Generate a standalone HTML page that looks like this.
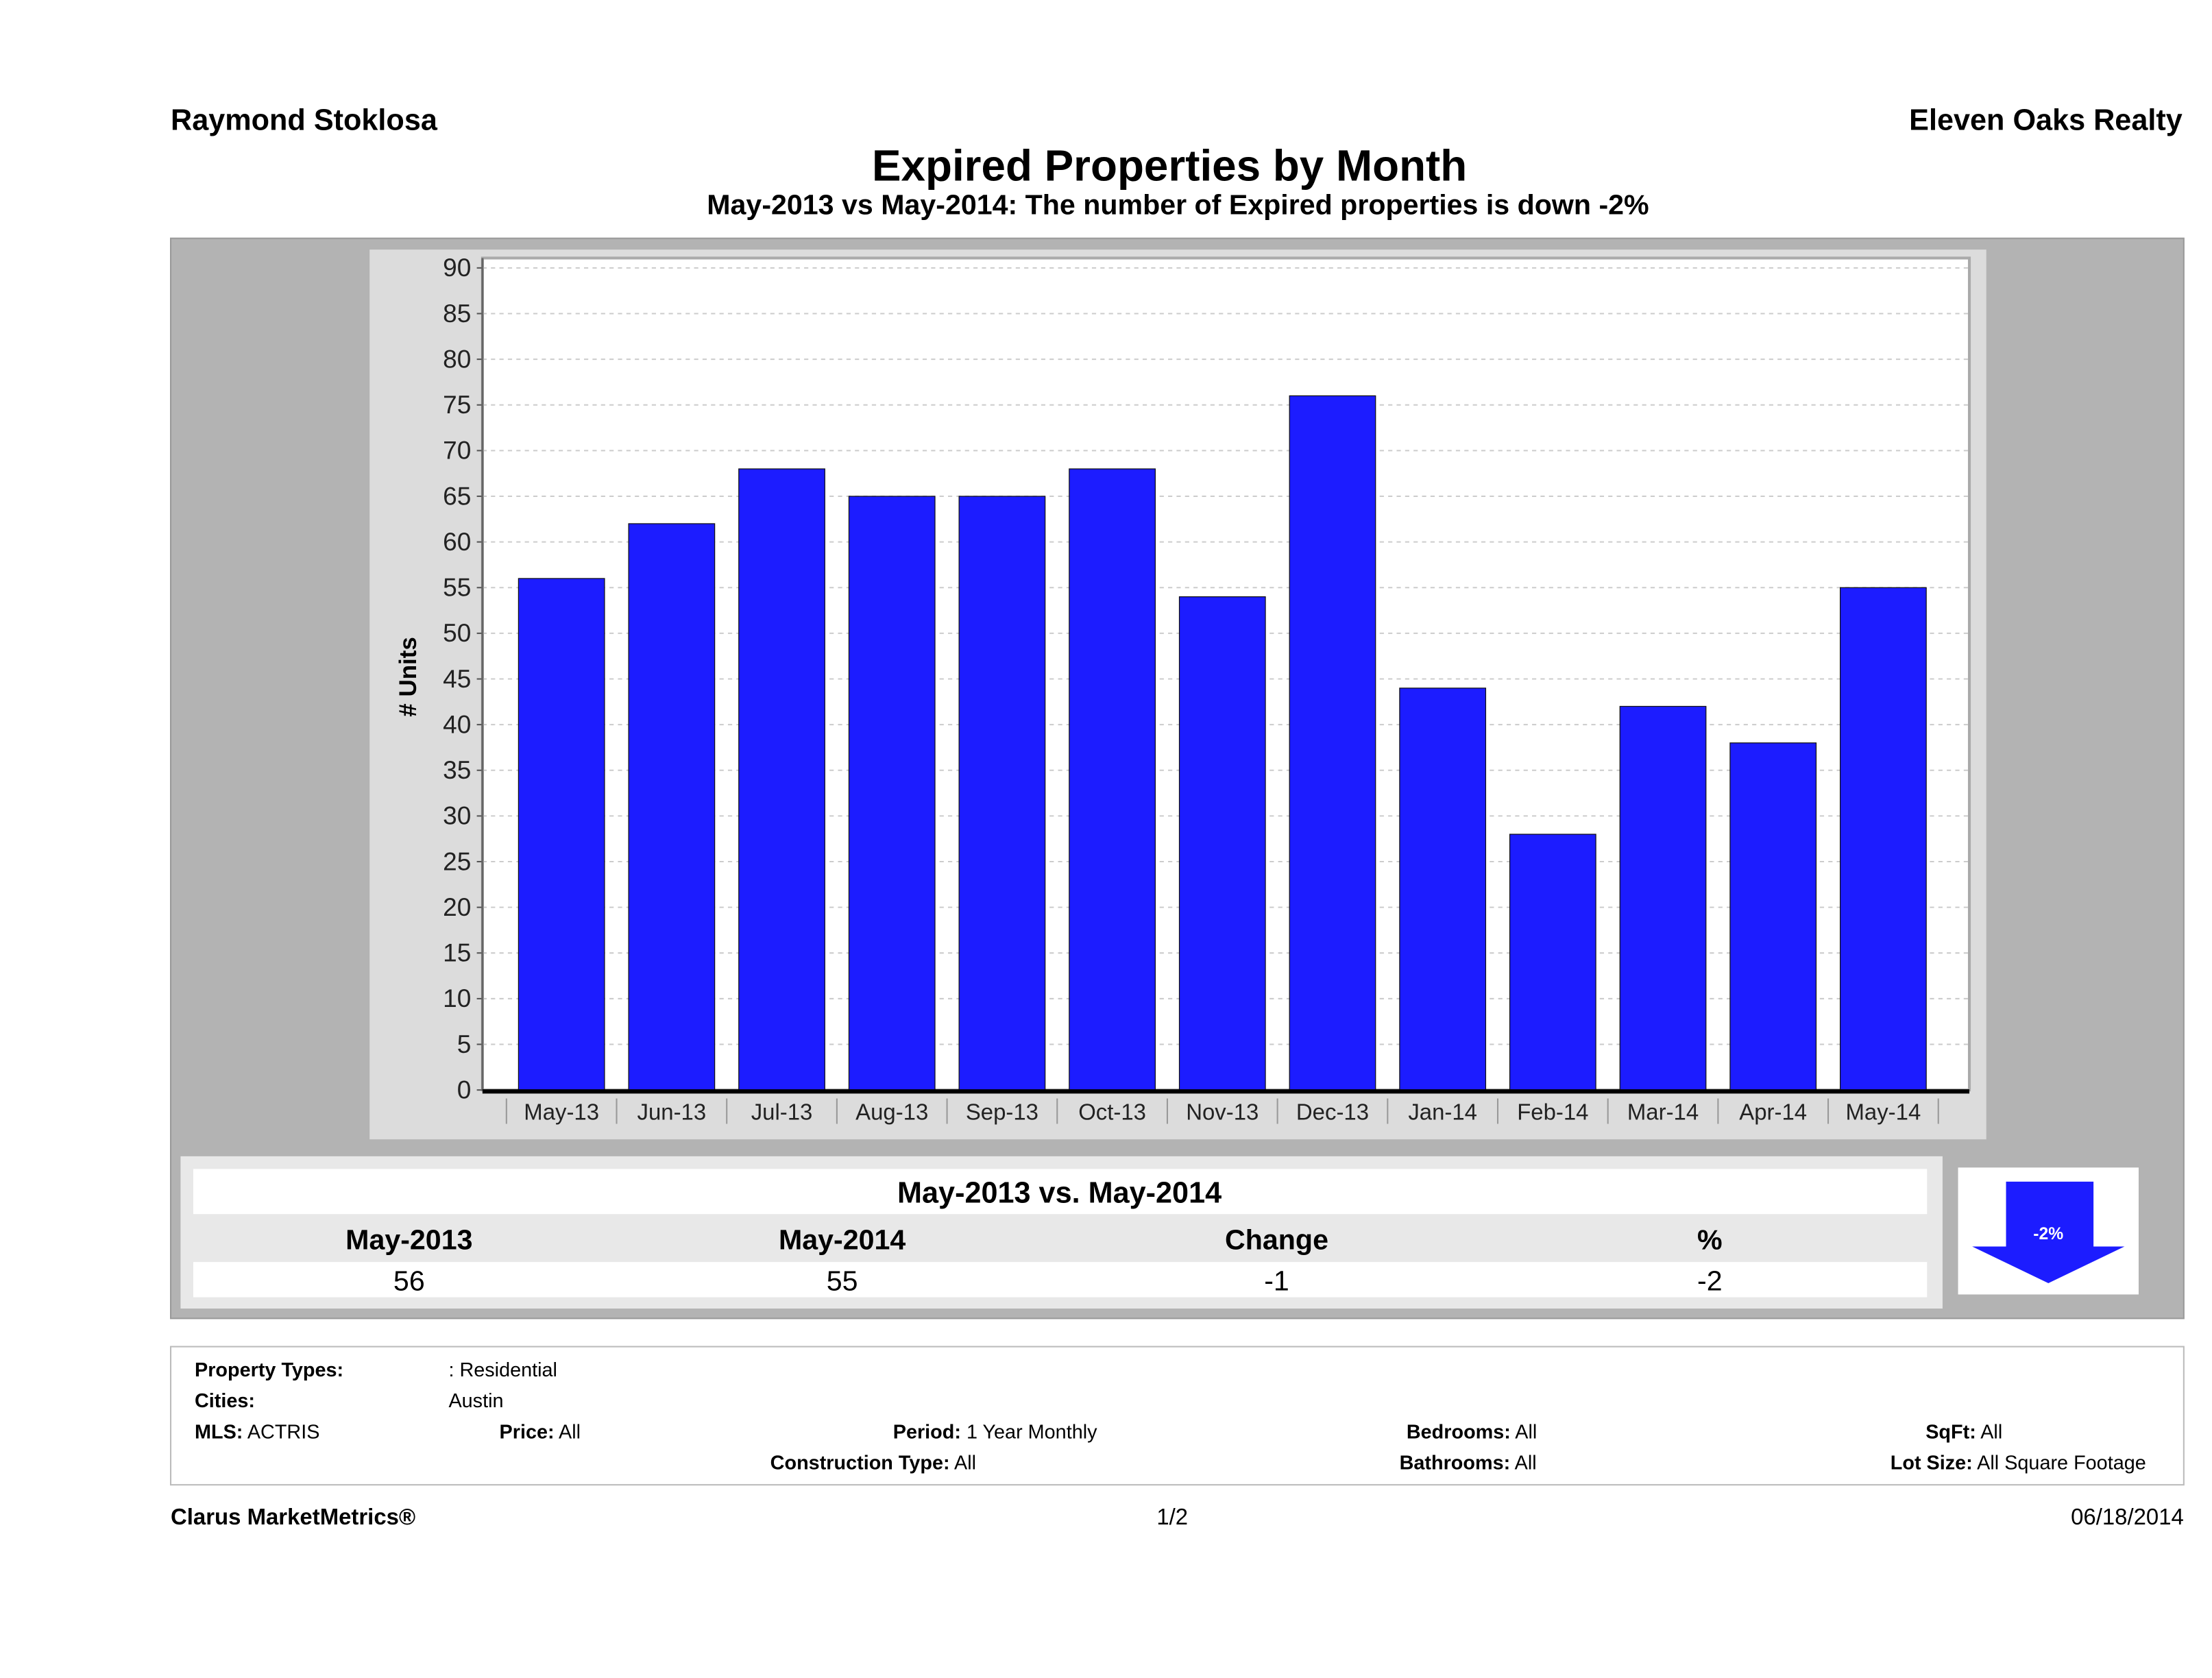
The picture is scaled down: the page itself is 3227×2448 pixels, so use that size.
<!DOCTYPE html>
<html><head><meta charset="utf-8"><style>
html,body{margin:0;padding:0;background:#fff;}
svg{display:block;font-family:"Liberation Sans",sans-serif;}
</style></head><body>
<svg id="root" width="3227" height="2448" viewBox="0 0 1568 1190" preserveAspectRatio="none" xmlns="http://www.w3.org/2000/svg">
<rect width="1568" height="1190" fill="#fff"/>
<text x="121" y="92" font-size="21" font-weight="bold">Raymond Stoklosa</text>
<text x="1547" y="92" font-size="21" font-weight="bold" text-anchor="end">Eleven Oaks Realty</text>
<text x="829" y="128" font-size="31" font-weight="bold" text-anchor="middle">Expired Properties by Month</text>
<text x="835" y="152" font-size="20" font-weight="bold" text-anchor="middle">May-2013 vs May-2014: The number of Expired  properties is down -2%</text>

<rect x="121" y="169" width="1427" height="766" fill="#b3b3b3" stroke="#999" stroke-width="1"/>
<rect x="262" y="177" width="1146" height="631" fill="#dcdcdc"/>
<rect x="342" y="183" width="1054" height="590" fill="#fff" stroke="#aaa" stroke-width="2"/>
<g id="grid"></g>
<g id="bars"></g>
<g id="yaxis"></g>
<g id="xaxis"></g>
<text transform="translate(295,480) rotate(-90)" font-size="17" font-weight="bold" text-anchor="middle"># Units</text>

<rect x="128" y="820" width="1249" height="108" fill="#e8e8e8"/>
<rect x="137" y="829" width="1229" height="32" fill="#fff"/>
<text x="751" y="853" font-size="21" font-weight="bold" text-anchor="middle">May-2013 vs. May-2014</text>
<text x="290" y="886" font-size="20" font-weight="bold" text-anchor="middle">May-2013</text>
<text x="597" y="886" font-size="20" font-weight="bold" text-anchor="middle">May-2014</text>
<text x="905" y="886" font-size="20" font-weight="bold" text-anchor="middle">Change</text>
<text x="1212" y="886" font-size="20" font-weight="bold" text-anchor="middle">%</text>
<rect x="137" y="895" width="1229" height="25" fill="#fff"/>
<text x="290" y="915" font-size="20" text-anchor="middle">56</text>
<text x="597" y="915" font-size="20" text-anchor="middle">55</text>
<text x="905" y="915" font-size="20" text-anchor="middle">-1</text>
<text x="1212" y="915" font-size="20" text-anchor="middle">-2</text>
<rect x="1388" y="828" width="128" height="90" fill="#fff"/>
<polygon points="1422,838 1484,838 1484,884 1506,884 1452,910 1398,884 1422,884" fill="#1c1cff"/>
<text x="1452" y="879" font-size="12" font-weight="bold" fill="#fff" text-anchor="middle">-2%</text>

<rect x="121" y="955" width="1427" height="98" fill="#fff" stroke="#bbb" stroke-width="1"/>
<g font-size="14">
<text x="138" y="976"><tspan font-weight="bold">Property Types:</tspan></text>
<text x="318" y="976">: Residential</text>
<text x="138" y="998" font-weight="bold">Cities:</text>
<text x="318" y="998">Austin</text>
<text x="138" y="1020"><tspan font-weight="bold">MLS:</tspan>   ACTRIS</text>
<text x="354" y="1020"><tspan font-weight="bold">Price:</tspan> All</text>
<text x="633" y="1020"><tspan font-weight="bold">Period:</tspan> 1 Year Monthly</text>
<text x="546" y="1042"><tspan font-weight="bold">Construction Type:</tspan> All</text>
<text x="997" y="1020"><tspan font-weight="bold">Bedrooms:</tspan> All</text>
<text x="992" y="1042"><tspan font-weight="bold">Bathrooms:</tspan> All</text>
<text x="1365" y="1020"><tspan font-weight="bold">SqFt:</tspan>  All</text>
<text x="1340" y="1042"><tspan font-weight="bold">Lot Size:</tspan>  All Square Footage</text>
</g>
<text x="121" y="1081" font-size="16" font-weight="bold">Clarus MarketMetrics®</text>
<text x="831" y="1081" font-size="16" text-anchor="middle">1/2</text>
<text x="1548" y="1081" font-size="16" text-anchor="end">06/18/2014</text>
</svg>
<script>
const categories = ["May-13","Jun-13","Jul-13","Aug-13","Sep-13","Oct-13","Nov-13","Dec-13","Jan-14","Feb-14","Mar-14","Apr-14","May-14"];
const values = [56,62,68,65,65,68,54,76,44,28,42,38,55];
const yTicks = [0,5,10,15,20,25,30,35,40,45,50,55,60,65,70,75,80,85,90];
const NS="http://www.w3.org/2000/svg";
const plotL=342,plotR=1396,yBase=773,yTop=190,yMax=90;
function y(v){return yBase-(v/yMax)*(yBase-yTop);}
const padL=17, padR=22, step=(plotR-plotL-padL-padR)/categories.length;
function xc(i){return plotL+padL+step*(i+0.5);}
function mk(tag,attrs,parent){const e=document.createElementNS(NS,tag);for(const k in attrs)e.setAttribute(k,attrs[k]);parent.appendChild(e);return e;}
const grid=document.getElementById('grid'),bars=document.getElementById('bars'),ya=document.getElementById('yaxis'),xa=document.getElementById('xaxis');
yTicks.forEach(t=>{
  const g=mk('line',{x1:plotL,x2:plotR,y1:y(t),y2:y(t),stroke:'#ccc','stroke-width':1,'stroke-dasharray':'3,3'},grid);
  
  
  const tk=mk('line',{x1:plotL-4,x2:plotL,y1:y(t),y2:y(t),stroke:'#555'},ya);
  
  
  const tx=mk('text',{x:plotL-8,y:y(t)+6,'font-size':18,'text-anchor':'end',fill:'#222'},ya);
  tx.textContent=t;
  
  
});
const yl=mk('line',{x1:plotL,x2:plotL,y1:183,y2:yBase,stroke:'#666','stroke-width':1.5},ya);


const bw=61;
values.forEach((v,i)=>{
  const r=mk('rect',{x:xc(i)-bw/2,y:y(v),width:bw,height:yBase-y(v),fill:'#1c1cff',stroke:'#111','stroke-width':0.6},bars);
  
  
});
const xl=mk('line',{x1:plotL,x2:plotR,y1:yBase+1,y2:yBase+1,stroke:'#000','stroke-width':3},xa);


categories.forEach((c,i)=>{
  const tx=mk('text',{x:xc(i),y:794,'font-size':16,'text-anchor':'middle',fill:'#222'},xa);
  tx.textContent=c;
  
  
  const sep=mk('line',{x1:xc(i)-step/2,x2:xc(i)-step/2,y1:779,y2:797,stroke:'#999'},xa);
  
  
});
const last=mk('line',{x1:xc(categories.length-1)+step/2,x2:xc(categories.length-1)+step/2,y1:779,y2:797,stroke:'#999'},xa);


</script>
</body></html>
